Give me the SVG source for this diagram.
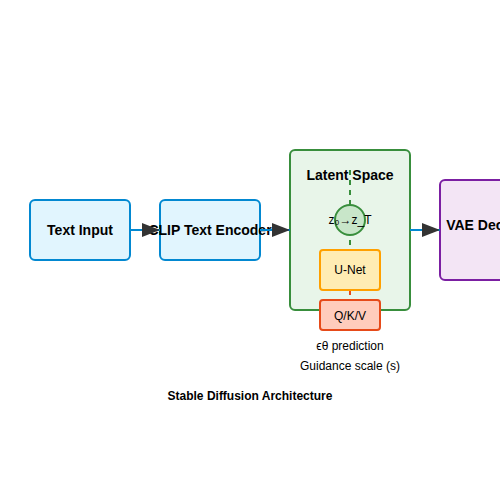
<svg xmlns="http://www.w3.org/2000/svg" width="500" height="500" viewBox="0 0 500 500">
  <style>
    text { font-family: "Liberation Sans", Arial, sans-serif; text-anchor: middle; fill: #000; }
    .b { font-weight: bold; font-size: 14px; }
    .s { font-size: 12px; }
    .t { font-weight: bold; font-size: 12px; }
    .blue { fill: #e1f5fe; stroke: #0288d1; stroke-width: 2; }
    .conn { stroke: #0288d1; stroke-width: 2; fill: none; }
  </style>
  <defs>
    <marker id="arrow" markerUnits="userSpaceOnUse" markerWidth="18" markerHeight="14" refX="18" refY="7" orient="auto">
      <polygon points="0,0 18,7 0,14" fill="#333"/>
    </marker>
  </defs>
  <rect width="500" height="500" fill="#fff"/>

  <g id="latent-space">
    <rect x="290" y="150" width="120" height="160" rx="5" fill="#e8f5e9" stroke="#388e3c" stroke-width="2"/>
    <line x1="350" y1="170" x2="350" y2="250" stroke="#388e3c" stroke-width="2" stroke-dasharray="5,5"/>
    <text class="b" x="350" y="180">Latent Space</text>
  </g>

  <g id="text-input">
    <rect class="blue" x="30" y="200" width="100" height="60" rx="5"/>
    <text class="b" x="80" y="235">Text Input</text>
  </g>

  <g id="clip-encoder">
    <rect class="blue" x="160" y="200" width="100" height="60" rx="5"/>
    <text class="b" x="210" y="235">CLIP Text Encoder</text>
  </g>

  <g id="vae-decoder">
    <rect x="440" y="180" width="100" height="100" rx="5" fill="#f3e5f5" stroke="#7b1fa2" stroke-width="2"/>
    <text class="b" x="490" y="230">VAE Decoder</text>
  </g>

  <g id="latent-z">
    <circle cx="350" cy="220" r="15" fill="#c8e6c9" stroke="#388e3c" stroke-width="2"/>
    <text class="s" x="350" y="224">z₀→z_T</text>
  </g>

  <g id="connectors">
    <line class="conn" x1="130" y1="230" x2="160" y2="230" marker-end="url(#arrow)"/>
    <line class="conn" x1="260" y1="230" x2="290" y2="230" marker-end="url(#arrow)"/>
    <line class="conn" x1="410" y1="230" x2="440" y2="230" marker-end="url(#arrow)"/>
    <line x1="350" y1="290" x2="350" y2="300" stroke="#e64a19" stroke-width="2" stroke-dasharray="5,5"/>
  </g>

  <g id="unet">
    <rect x="320" y="250" width="60" height="40" rx="3" fill="#ffecb3" stroke="#ffa000" stroke-width="2"/>
    <text class="s" x="350" y="274">U-Net</text>
  </g>

  <g id="qkv">
    <rect x="320" y="300" width="60" height="30" rx="3" fill="#ffccbc" stroke="#e64a19" stroke-width="2"/>
    <text class="s" x="350" y="320">Q/K/V</text>
  </g>

  <g id="labels">
    <text class="s" x="350" y="350">ϵθ prediction</text>
    <text class="s" x="350" y="370">Guidance scale (s)</text>
    <text class="t" x="250" y="400">Stable Diffusion Architecture</text>
  </g>
</svg>
